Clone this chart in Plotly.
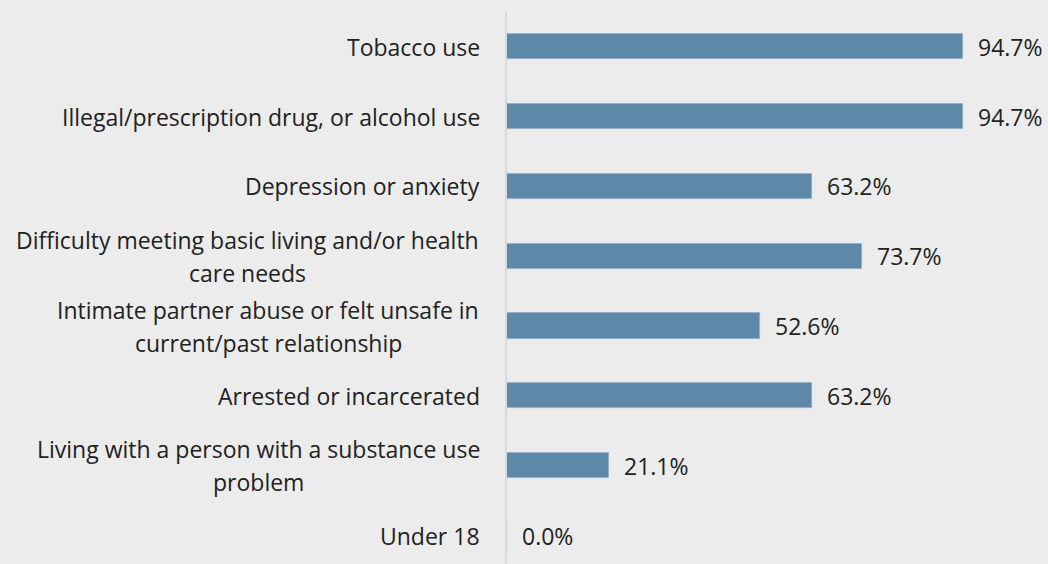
import plotly.graph_objects as go

# Risk factors (top to bottom) and share of respondents reporting each
categories = [
    ["Tobacco use"],
    ["Illegal/prescription drug, or alcohol use"],
    ["Depression or anxiety"],
    ["Difficulty meeting basic living and/or health", "care needs"],
    ["Intimate partner abuse or felt unsafe in", "current/past relationship"],
    ["Arrested or incarcerated"],
    ["Living with a person with a substance use", "problem"],
    ["Under 18"],
]
values = [94.7, 94.7, 63.2, 73.7, 52.6, 63.2, 21.1, 0.0]
value_labels = ["94.7%", "94.7%", "63.2%", "73.7%", "52.6%", "63.2%", "21.1%", "0.0%"]

BG = "#ebeceb"
BAR = "#5d88a8"
TEXT = "#222222"
FONT = "Open Sans"
FS = 23

positions = list(range(len(values)))

fig = go.Figure(
    go.Bar(
        x=values,
        y=positions,
        orientation="h",
        width=0.36,
        marker=dict(color=BAR, line=dict(color="#8fb0c8", width=0.8)),
        hoverinfo="skip",
    )
)

annotations = []
# value labels to the right of each bar
for pos, v, lab in zip(positions, values, value_labels):
    annotations.append(dict(
        x=v, y=pos, xref="x", yref="y", text=lab, showarrow=False,
        xanchor="left", yanchor="middle", xshift=13,
        font=dict(family=FONT, size=FS, color=TEXT),
    ))

# category labels: lines centred on each other, block right-aligned at the axis
LABEL_RIGHT = -25          # px from the axis line to the right edge of the text
LINE_GAP = 33              # px between baselines of wrapped lines
wrap_centres = {3: -260, 4: -239, 6: -249}
for pos, lines in zip(positions, categories):
    if len(lines) == 1:
        annotations.append(dict(
            x=0, y=pos, xref="paper", yref="y", text=lines[0], showarrow=False,
            xanchor="right", yanchor="middle", xshift=LABEL_RIGHT,
            font=dict(family=FONT, size=FS, color=TEXT),
        ))
    else:
        for k, line in enumerate(lines):
            annotations.append(dict(
                x=0, y=pos, xref="paper", yref="y", text=line, showarrow=False,
                xanchor="center", yanchor="middle", xshift=wrap_centres[pos],
                yshift=LINE_GAP / 2 - k * LINE_GAP,
                font=dict(family=FONT, size=FS, color=TEXT),
            ))

fig.update_layout(
    width=1048, height=564,
    margin=dict(l=507, r=11, t=12, b=0),
    paper_bgcolor=BG, plot_bgcolor=BG,
    showlegend=False,
    bargap=0,
    annotations=annotations,
    xaxis=dict(range=[0, 110], showgrid=False, zeroline=False,
               showticklabels=False, showline=False, fixedrange=True),
    yaxis=dict(range=[7.408, -0.497], showgrid=False, zeroline=False,
               showticklabels=False, showline=True, linecolor="#d9d9d9",
               linewidth=2, fixedrange=True),
)

fig.write_html("out.html")
